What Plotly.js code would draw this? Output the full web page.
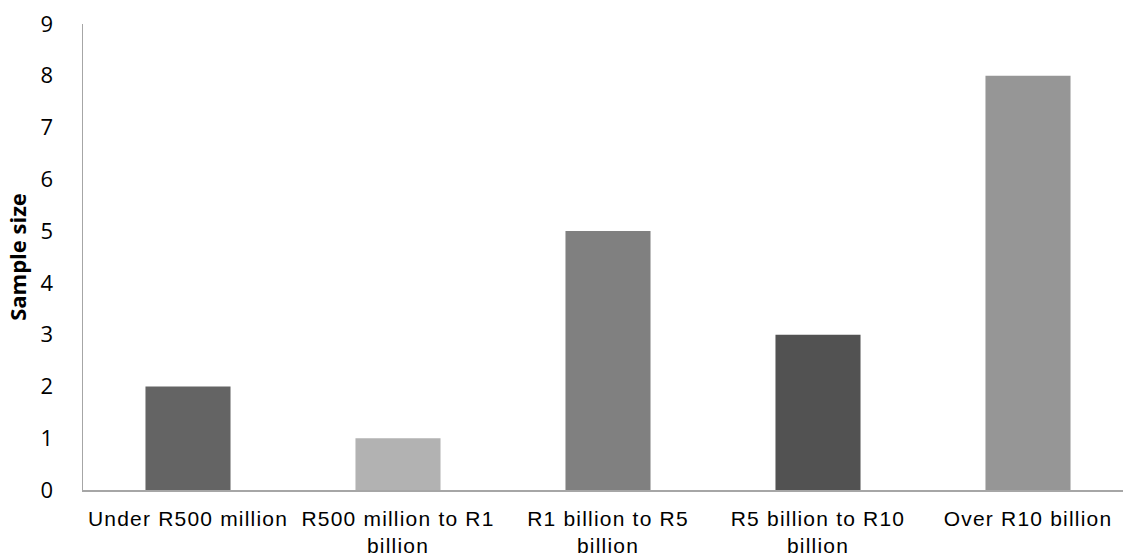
<!DOCTYPE html>
<html>
<head>
<meta charset="utf-8">
<script src="https://cdn.plot.ly/plotly-3.0.1.min.js"></script>
<style>
  html, body { margin: 0; padding: 0; background: #fff; }
  #chart { width: 1123px; height: 556px; }
  .xtick text { letter-spacing: 1.2px; }
</style>
</head>
<body>
<div id="chart"></div>
<script>
const categories = [
  "Under R500 million",
  "R500 million to R1<br>billion",
  "R1 billion to R5<br>billion",
  "R5 billion to R10<br>billion",
  "Over R10 billion"
];
const sampleSize = [2, 1, 5, 3, 8];
const barColors = ["#646464", "#b2b2b2", "#808080", "#525252", "#969696"];
const yTicks = [0, 1, 2, 3, 4, 5, 6, 7, 8, 9];

const trace = {
  type: "bar",
  x: categories,
  y: sampleSize,
  marker: { color: barColors, line: { width: 0 } },
  hoverinfo: "x+y"
};

const layout = {
  width: 1123,
  height: 556,
  margin: { l: 83, r: 0, t: 24, b: 66, pad: 0 },
  paper_bgcolor: "#ffffff",
  plot_bgcolor: "#ffffff",
  showlegend: false,
  bargap: 0.595,
  xaxis: {
    type: "category",
    range: [-0.5, 4.4524],
    showgrid: false,
    zeroline: false,
    showline: true,
    linecolor: "#a6a6a6",
    linewidth: 1.5,
    ticks: "",
    ticklabelstandoff: 9,
    tickfont: { family: "Arial", size: 21, color: "#000000" },
    tickangle: 0,
    fixedrange: true
  },
  yaxis: {
    range: [0, 9],
    tickvals: yTicks,
    ticktext: yTicks.map(String),
    showgrid: false,
    zeroline: false,
    showline: true,
    linecolor: "#a6a6a6",
    linewidth: 1.5,
    ticks: "",
    ticklabelstandoff: 24,
    tickfont: { family: "Open Sans", size: 22, color: "#000000" },
    title: {
      text: "<b>Sample size</b>",
      font: { family: "Open Sans", size: 22, color: "#000000" },
      standoff: 8
    },
    automargin: false,
    fixedrange: true
  }
};

Plotly.newPlot("chart", [trace], layout, { displayModeBar: false, staticPlot: true });
</script>
</body>
</html>
